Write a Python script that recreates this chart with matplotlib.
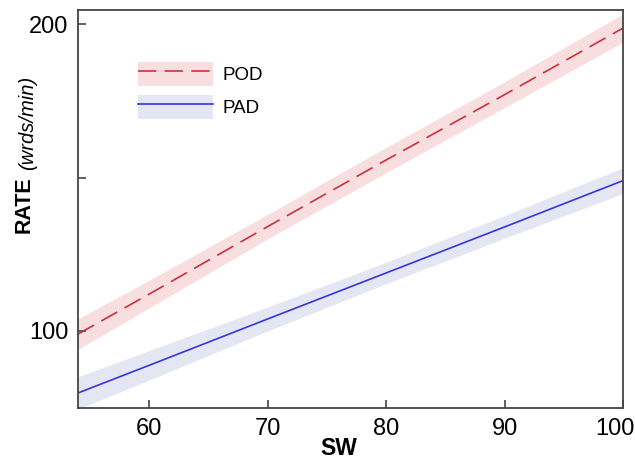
import matplotlib
matplotlib.use("Agg")
import matplotlib.pyplot as plt
import matplotlib.transforms as mtransforms
import numpy as np
from matplotlib.patches import Patch
from matplotlib.lines import Line2D

plt.rcParams['font.family'] = ['Liberation Sans', 'DejaVu Sans']

# data
sw = [54, 60, 70, 80, 90, 100]
pod_fit = [99.0, 112.0, 134.0, 155.7, 177.0, 198.7]
pod_lo = [94.0, 107.5, 130.0, 151.6, 172.8, 194.1]
pod_hi = [104.0, 116.5, 138.0, 159.8, 181.2, 203.3]
pad_fit = [79.8, 88.8, 103.9, 118.9, 133.9, 149.0]
pad_lo = [74.5, 84.0, 100.0, 115.4, 130.2, 144.8]
pad_hi = [85.1, 93.6, 107.8, 122.4, 137.6, 153.2]

x_ticks = [60, 70, 80, 90, 100]
y_ticks = [100, 150, 200]
y_ticklabels = ['100', '', '200']

W, H = 635, 461
fig = plt.figure(figsize=(W / 100, H / 100), dpi=100)
ax = fig.add_axes([78 / W, 1 - 408 / H, (623 - 78) / W, (408 - 10) / H])

pod_col = '#c8303f'
pod_band = '#f8dede'
pad_col = '#3535dd'
pad_band = '#e4e7f3'

ax.fill_between(sw, pod_lo, pod_hi, color=pod_band, lw=0)
ax.fill_between(sw, pad_lo, pad_hi, color=pad_band, lw=0)
ax.plot(sw, pod_fit, color=pod_col, lw=1.2, linestyle=(0, (11, 5)))
ax.plot(sw, pad_fit, color=pad_col, lw=1.2)

ax.set_xlim(54, 100)
ax.set_ylim(74.9, 204.6)
ax.set_xticks(x_ticks)
ax.set_yticks(y_ticks)
ax.set_yticklabels(y_ticklabels)
ax.tick_params(direction='in', length=6, width=1.2, color='#444444',
               labelsize=17, pad=7)
for s in ax.spines.values():
    s.set_color('#444444')
    s.set_linewidth(1.3)

# shift the last x tick label left so it stays inside the figure
last = ax.get_xticklabels()[-1]
last.set_transform(last.get_transform() + mtransforms.ScaledTranslation(-8 / 100, 0, fig.dpi_scale_trans))

fig.text(339 / W, 1 - 455 / H, 'SW', ha='center', va='baseline',
         fontsize=16.5, fontweight='bold')

fig.text(24 / W, 1 - 233 / H, 'RATE', rotation=90, ha='center', va='bottom',
         fontsize=15.5, fontweight='bold')
fig.text(28 / W, 1 - 170 / H, '(wrds/min)', rotation=90, ha='center', va='bottom',
         fontsize=14.5, fontstyle='italic')

fs = 13.5
h_pod = (Patch(facecolor=pod_band, edgecolor='none'),
         Line2D([], [], color=pod_col, lw=1.2, linestyle=(0, (11, 5))))
h_pad = (Patch(facecolor=pad_band, edgecolor='none'),
         Line2D([], [], color=pad_col, lw=1.2))
px = fs * 100 / 72
leg = ax.legend([h_pod, h_pad], ['POD', 'PAD'], loc='upper left',
                bbox_to_anchor=(138 / W, 1 - 62 / H), bbox_transform=fig.transFigure,
                frameon=False, fontsize=fs, handlelength=75 / px, handleheight=30 / px,
                labelspacing=8.5 / px, handletextpad=9 / px, borderpad=0, borderaxespad=0)

fig.savefig('out.png', dpi=100)
